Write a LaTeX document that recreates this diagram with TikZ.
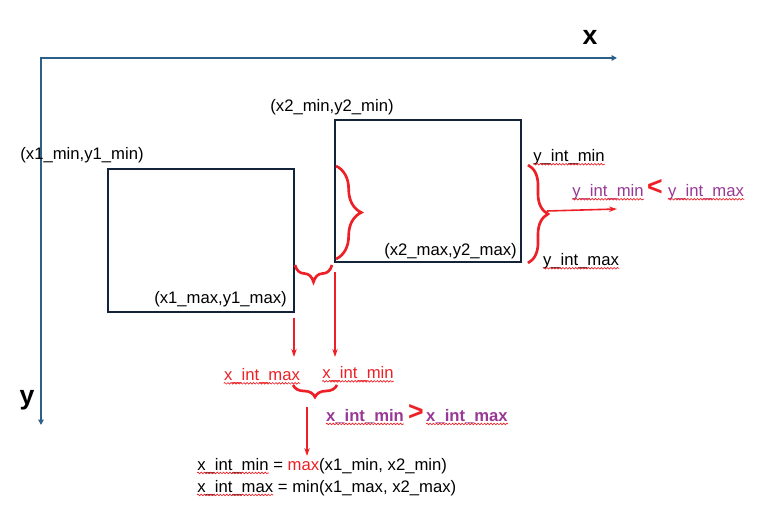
\documentclass[tikz,border=0pt]{standalone}
\usepackage{fontspec}
\setmainfont{Liberation Sans}
\usetikzlibrary{arrows.meta, decorations.pathreplacing, decorations.pathmorphing}

\definecolor{axisblue}{RGB}{44,96,136}
\definecolor{boxnavy}{RGB}{20,36,56}
\definecolor{markred}{RGB}{236,32,38}
\definecolor{cmppurple}{RGB}{152,56,150}

\begin{document}
\begin{tikzpicture}[
  x=0.75pt, y=-0.75pt,
  lbl/.style={inner sep=0pt, font=\fontsize{12.5}{15}\selectfont},
  big/.style={inner sep=0pt, font=\fontsize{20}{24}\selectfont\bfseries},
  boxframe/.style={draw=boxnavy, line width=1.5pt, minimum width=139.5pt},
  axisline/.style={draw=axisblue, line width=1.5pt,
    {Triangle[length=4pt, width=4pt]}-{Triangle[length=4pt, width=4pt]}},
  arr/.style={draw=markred, line width=1.2pt, -{Stealth[length=6pt, width=4pt]}},
  brc/.style={draw=markred, line width=2pt, decorate,
    decoration={brace, amplitude=#1}},
  spell/.style={draw=markred, line width=0.5pt, decorate,
    decoration={snake, amplitude=0.6pt, segment length=2.4pt}}
]
\useasboundingbox (0,0) rectangle (759,505);

% axes
\coordinate (org) at (41,58);
\coordinate (xend) at (617,58);
\coordinate (yend) at (41,425);
\draw[axisline] (yend) -- (org) -- (xend);
\node[big] (xlbl) at (590,37) {x};
\node[big] (ylbl) at (27,400) {y};

% the two boxes
\node[boxframe, minimum height=107.25pt] (box1) at (201,240.5) {};
\node[boxframe, minimum height=106.5pt] (box2) at (428,191) {};

% corner labels
\node[lbl] (c1min) at (82,155) {(x1\_min,y1\_min)};
\node[lbl] (c2min) at (332,107) {(x2\_min,y2\_min)};
\node[lbl, anchor=east] (c2max) at (517,251) {(x2\_max,y2\_max)};
\node[lbl, anchor=east] (c1max) at (287,299) {(x1\_max,y1\_max)};

% y intersection
\node[lbl] (yimin) at (569,157) {y\_int\_min};
\node[lbl] (yimax) at (581,261) {y\_int\_max};
\node[lbl, text=cmppurple] (pyimin) at (608,192) {y\_int\_min};
\node[big, text=markred] (ylt) at (655,188) {<};
\node[lbl, text=cmppurple] (pyimax) at (706,192) {y\_int\_max};

% x intersection
\node[lbl, text=markred] (ximax) at (262,376) {x\_int\_max};
\node[lbl, text=markred] (ximin) at (358,374) {x\_int\_min};
\node[lbl, text=cmppurple, font=\fontsize{12.5}{15}\selectfont\bfseries]
  (pximin) at (365,416) {x\_int\_min};
\node[big, text=markred] (xgt) at (416,412) {>};
\node[lbl, text=cmppurple, font=\fontsize{12.5}{15}\selectfont\bfseries]
  (pximax) at (467,416) {x\_int\_max};

% formulas
\node[lbl, anchor=base west] (f1a) at (197,470) {x\_int\_min};
\node[lbl, anchor=base west] (f1b) at (f1a.base east)
  {\hspace{0.25em}= \textcolor{markred}{max}(x1\_min, x2\_min)};
\node[lbl, anchor=base west] (f2a) at (197,492) {x\_int\_max};
\node[lbl, anchor=base west] (f2b) at (f2a.base east)
  {\hspace{0.25em}= min(x1\_max, x2\_max)};

\foreach \n in {yimin, yimax, pyimin, pyimax, ximax, ximin, pximin, pximax, f1a, f2a}
  \draw[spell] ([yshift=-2.2pt]\n.base west) -- ([yshift=-2.2pt]\n.base east);

% braces
\coordinate (b2top) at (336,166);
\coordinate (b2bot) at (336,259);
\draw[brc=19pt] (b2top) -- (b2bot);
\coordinate (ybtop) at (528,165);
\coordinate (ybbot) at (528,263);
\draw[brc=15pt] (ybtop) -- (ybbot);
\coordinate (gapl) at (295,265);
\coordinate (gapr) at (332,265);
\draw[brc=12.75pt, decoration={mirror}] (gapl) -- (gapr);
\coordinate (lowl) at (293,385);
\coordinate (lowr) at (337,385);
\draw[brc=9pt, decoration={mirror}] (lowl) -- (lowr);

% arrows
\coordinate (a1s) at (294,318);
\coordinate (a1e) at (294,357);
\draw[arr] (a1s) -- (a1e);
\coordinate (a2s) at (335,272);
\coordinate (a2e) at (335,357);
\draw[arr] (a2s) -- (a2e);
\coordinate (a3s) at (547,211);
\coordinate (a3e) at (617,209);
\draw[arr] (a3s) -- (a3e);
\coordinate (a4s) at (307,407);
\coordinate (a4e) at (307,456);
\draw[arr] (a4s) -- (a4e);
\end{tikzpicture}
\end{document}
